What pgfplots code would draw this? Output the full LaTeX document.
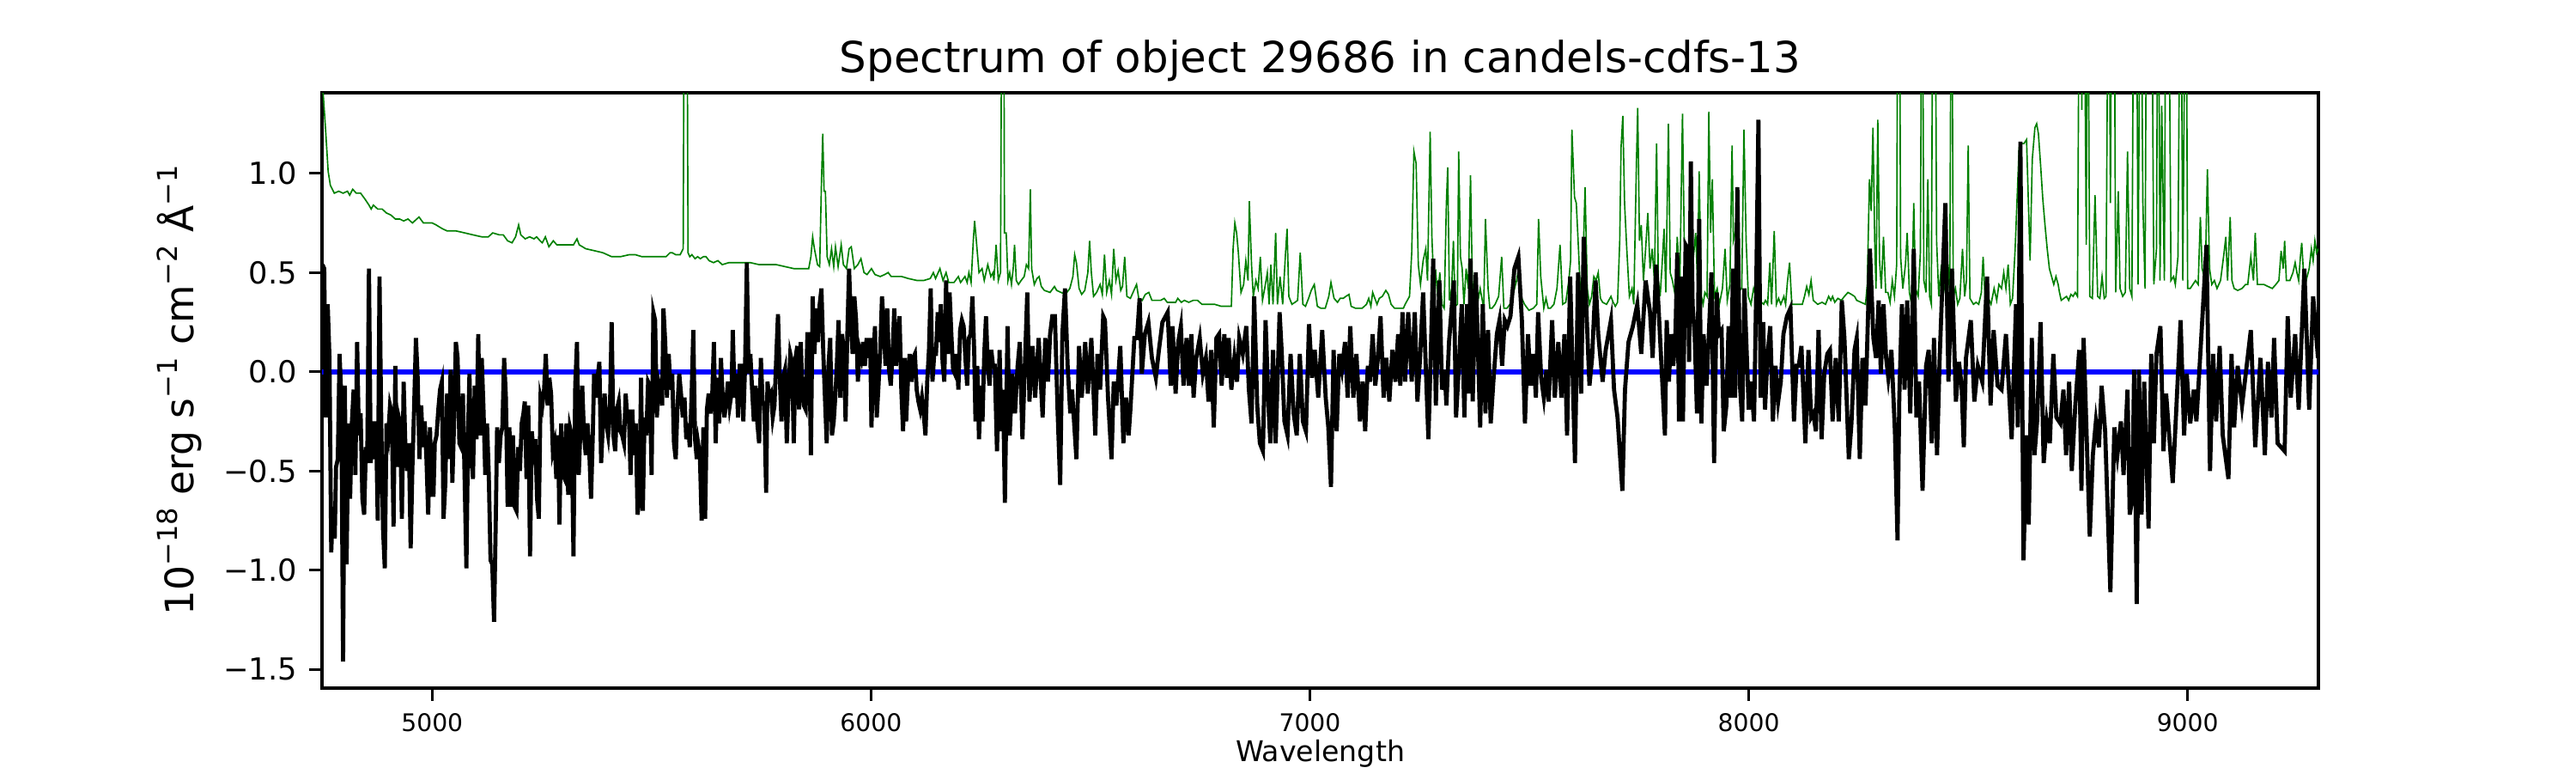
\documentclass[border=0pt]{standalone}
\usepackage{pgfplots}
\pgfplotsset{compat=1.18}
\usepackage{fontspec}
\setmainfont{DejaVu Sans}
\newcommand\sups[1]{\raisebox{0.4em}{\fontsize{7.7}{8}\selectfont #1}}
\definecolor{mplgreen}{rgb}{0,0.5,0}
\begin{document}
\begin{tikzpicture}
\useasboundingbox (0,0) rectangle (722.7pt,216.81pt);
\begin{axis}[
  at={(90.34pt,23.85pt)}, anchor=south west,
  scale only axis, width=560.09pt, height=166.94pt,
  xmin=4749, xmax=9298, ymin=-1.594, ymax=1.406,
  xtick={5000,6000,7000,8000,9000},
  xticklabels={5000,6000,7000,8000,9000},
  ytick={-1.5,-1,-0.5,0,0.5,1},
  yticklabels={−1.5,−1.0,−0.5,0.0,0.5,1.0},
  /pgf/number format/assume math mode=true,
  tick pos=left, tick align=outside, major tick length=3.5pt,
  every tick/.style={black, line width=0.8pt},
  minor tick num=0,
  axis line style={line width=0.8pt},
  xticklabel style={font=\fontsize{6.8}{8}\selectfont},
  yticklabel style={font=\fontsize{8.5}{10}\selectfont},
  title={Spectrum of object 29686 in candels-cdfs-13},
  every axis title/.style={at={(axis description cs:0.5,1)}, anchor=base, yshift=5.78pt, font=\fontsize{12}{14}\selectfont},
  xlabel={Wavelength},
  every axis x label/.style={at={(axis description cs:0.5,0)}, anchor=base, yshift=-20.65pt, font=\fontsize{8}{9}\selectfont},
  ylabel={10\sups{−18} erg s\sups{−1} cm\sups{−2} Å\sups{−1}},
  every axis y label/.style={at={(axis description cs:0,0.5)}, xshift=-36.13pt, rotate=90, anchor=base, font=\fontsize{11}{13}\selectfont},
]
% sky / variance spectrum (green)
\addplot[mplgreen, line width=0.4pt] coordinates {
(4750,1.45) (4752,1.39) (4758,1.19) (4763,1.01) (4768,0.94) (4777,0.90) (4787,0.91) (4797,0.90) (4807,0.91) (4812,0.89)
(4819,0.92) (4827,0.90) (4837,0.90) (4847,0.87) (4856,0.84) (4861,0.82) (4866,0.84) (4876,0.82) (4886,0.82) (4896,0.80)
(4906,0.79) (4916,0.77) (4926,0.77) (4935,0.76) (4945,0.77) (4955,0.75) (4965,0.77) (4970,0.78) (4980,0.75) (4990,0.75)
(5000,0.75) (5009,0.74) (5024,0.72) (5034,0.71) (5054,0.71) (5074,0.70) (5093,0.69) (5113,0.68) (5128,0.68) (5138,0.70)
(5153,0.69) (5162,0.69) (5172,0.66) (5182,0.65) (5190,0.68) (5197,0.74) (5202,0.69) (5212,0.67) (5222,0.68) (5232,0.67)
(5238,0.68) (5246,0.66) (5251,0.65) (5258,0.68) (5266,0.63) (5276,0.66) (5284,0.64) (5296,0.64) (5310,0.64) (5322,0.64)
(5330,0.67) (5335,0.64) (5350,0.62) (5370,0.61) (5389,0.60) (5409,0.58) (5429,0.58) (5449,0.59) (5463,0.59) (5478,0.58)
(5498,0.58) (5518,0.58) (5533,0.58) (5542,0.60) (5547,0.60) (5555,0.59) (5565,0.59) (5572,0.62) (5575,2.5) (5580,2.5)
(5583,0.60) (5587,0.58) (5592,0.59) (5599,0.57) (5605,0.58) (5611,0.57) (5618,0.58) (5624,0.58) (5631,0.56) (5641,0.55)
(5651,0.56) (5661,0.54) (5676,0.55) (5695,0.55) (5710,0.55) (5725,0.55) (5745,0.54) (5764,0.54) (5784,0.54) (5804,0.53)
(5824,0.52) (5843,0.52) (5858,0.52) (5863,0.58) (5867,0.68) (5871,0.62) (5878,0.54) (5883,0.53) (5887,0.95) (5890,1.20)
(5893,0.91) (5896,0.91) (5900,0.58) (5905,0.54) (5910,0.62) (5915,0.53) (5919,0.63) (5925,0.53) (5932,0.64) (5937,0.54)
(5944,0.52) (5950,0.62) (5955,0.63) (5962,0.52) (5970,0.54) (5977,0.57) (5984,0.50) (5991,0.49) (6001,0.52) (6009,0.49)
(6021,0.48) (6031,0.49) (6039,0.50) (6046,0.48) (6061,0.48) (6070,0.48) (6085,0.47) (6105,0.46) (6120,0.46) (6135,0.47)
(6142,0.50) (6147,0.47) (6157,0.52) (6164,0.46) (6171,0.50) (6177,0.45) (6189,0.45) (6199,0.48) (6204,0.45) (6214,0.48)
(6219,0.45) (6223,0.50) (6228,0.45) (6233,0.66) (6236,0.76) (6240,0.66) (6246,0.50) (6253,0.52) (6258,0.46) (6266,0.54)
(6273,0.48) (6278,0.50) (6280,0.46) (6285,0.64) (6290,0.46) (6295,0.50) (6299,2.5) (6302,2.5) (6304,0.70) (6308,0.70)
(6312,0.46) (6316,0.50) (6320,0.44) (6324,0.52) (6327,0.64) (6331,0.46) (6336,0.44) (6342,0.46) (6349,0.48) (6354,0.54)
(6359,0.52) (6363,0.92) (6366,0.52) (6372,0.44) (6378,0.47) (6383,0.48) (6388,0.43) (6395,0.41) (6408,0.40) (6418,0.43)
(6423,0.41) (6433,0.40) (6443,0.39) (6453,0.42) (6460,0.48) (6464,0.59) (6468,0.55) (6474,0.42) (6480,0.39) (6487,0.41)
(6494,0.50) (6498,0.66) (6502,0.50) (6507,0.38) (6514,0.40) (6522,0.44) (6527,0.39) (6532,0.59) (6537,0.40) (6543,0.46)
(6548,0.39) (6553,0.62) (6558,0.46) (6563,0.51) (6569,0.41) (6573,0.43) (6578,0.58) (6583,0.38) (6591,0.37) (6599,0.41)
(6605,0.44) (6610,0.37) (6618,0.36) (6625,0.39) (6633,0.40) (6640,0.36) (6650,0.36) (6660,0.36) (6668,0.37) (6675,0.35)
(6684,0.35) (6694,0.35) (6699,0.37) (6707,0.35) (6714,0.36) (6724,0.35) (6734,0.36) (6744,0.36) (6754,0.34) (6768,0.34)
(6783,0.34) (6798,0.33) (6821,0.33) (6825,0.62) (6829,0.75) (6833,0.70) (6837,0.60) (6843,0.40) (6849,0.44) (6854,0.56)
(6859,0.46) (6862,0.86) (6867,0.54) (6871,0.38) (6877,0.46) (6882,0.42) (6887,0.58) (6892,0.36) (6897,0.42) (6903,0.50)
(6907,0.34) (6911,0.54) (6916,0.34) (6922,0.70) (6926,0.34) (6932,0.48) (6938,0.34) (6944,0.58) (6948,0.72) (6952,0.38)
(6959,0.34) (6966,0.35) (6972,0.36) (6978,0.60) (6984,0.34) (6990,0.33) (6997,0.37) (7003,0.41) (7010,0.44) (7017,0.33)
(7025,0.32) (7035,0.32) (7043,0.38) (7048,0.45) (7055,0.37) (7063,0.35) (7069,0.37) (7076,0.37) (7082,0.38) (7089,0.39)
(7094,0.33) (7104,0.32) (7119,0.32) (7124,0.33) (7129,0.34) (7134,0.37) (7139,0.33) (7143,0.40) (7148,0.37) (7153,0.34)
(7158,0.37) (7165,0.38) (7173,0.41) (7179,0.39) (7185,0.34) (7193,0.32) (7203,0.32) (7213,0.32) (7217,0.34) (7227,0.38)
(7232,0.60) (7237,1.11) (7242,1.05) (7247,0.54) (7252,0.44) (7258,0.56) (7264,0.62) (7268,0.46) (7274,1.21) (7278,0.68)
(7282,0.46) (7287,0.50) (7291,0.38) (7296,0.50) (7301,0.34) (7306,0.32) (7311,0.85) (7314,1.03) (7318,0.36) (7323,0.42)
(7327,0.66) (7331,0.33) (7336,0.34) (7339,1.11) (7343,0.58) (7347,0.52) (7351,0.34) (7356,0.52) (7361,0.42) (7366,0.99)
(7370,0.46) (7375,0.34) (7380,0.32) (7388,0.42) (7396,0.32) (7400,0.77) (7406,0.42) (7410,0.32) (7415,0.32) (7422,0.34)
(7430,0.38) (7437,0.58) (7442,0.32) (7449,0.32) (7459,0.35) (7464,0.40) (7471,0.46) (7477,0.54) (7481,0.38) (7489,0.34)
(7499,0.31) (7509,0.32) (7517,0.34) (7521,0.77) (7526,0.48) (7533,0.32) (7538,0.37) (7543,0.32) (7548,0.32) (7556,0.34)
(7563,0.42) (7570,0.64) (7576,0.34) (7583,0.35) (7590,0.46) (7594,0.56) (7597,1.22) (7603,0.88) (7607,0.85) (7612,0.62)
(7617,0.36) (7622,0.52) (7627,0.93) (7632,0.42) (7637,0.34) (7642,0.38) (7647,0.48) (7652,0.46) (7657,0.50) (7662,0.37)
(7667,0.35) (7676,0.34) (7686,0.38) (7691,0.35) (7696,0.33) (7701,0.35) (7706,0.66) (7709,1.13) (7713,1.29) (7717,0.85)
(7722,0.62) (7728,0.38) (7734,0.42) (7738,0.34) (7744,1.05) (7747,1.33) (7751,0.66) (7755,0.74) (7760,0.46) (7765,0.62)
(7770,0.80) (7775,0.52) (7780,0.62) (7785,0.46) (7790,1.15) (7794,0.46) (7798,0.38) (7802,0.52) (7807,0.72) (7811,0.40)
(7817,1.25) (7821,0.50) (7826,0.46) (7833,0.38) (7837,0.68) (7843,0.46) (7849,1.30) (7853,0.66) (7857,0.62) (7863,0.34)
(7868,0.37) (7874,0.58) (7879,0.70) (7883,0.46) (7887,1.01) (7892,0.38) (7896,0.34) (7900,0.40) (7905,0.38) (7909,1.31)
(7913,0.70) (7917,0.97) (7922,0.38) (7928,0.42) (7933,0.34) (7940,0.42) (7946,0.62) (7951,0.36) (7957,0.44) (7962,1.14)
(7965,0.66) (7969,0.70) (7974,0.93) (7979,0.41) (7984,0.42) (7989,1.22) (7994,0.66) (7999,0.38) (8005,0.34) (8011,0.42)
(8019,0.36) (8024,0.38) (8029,0.35) (8034,0.34) (8038,0.36) (8043,0.34) (8048,0.55) (8052,0.34) (8058,0.71) (8063,0.34)
(8068,0.37) (8073,0.34) (8080,0.38) (8084,0.34) (8088,0.45) (8093,0.55) (8098,0.34) (8106,0.34) (8113,0.34) (8122,0.34)
(8127,0.38) (8132,0.43) (8137,0.39) (8142,0.46) (8147,0.36) (8157,0.34) (8167,0.35) (8175,0.34) (8182,0.38) (8187,0.36)
(8191,0.38) (8196,0.35) (8203,0.37) (8211,0.36) (8218,0.38) (8226,0.40) (8234,0.39) (8241,0.38) (8246,0.36) (8256,0.35)
(8266,0.34) (8270,0.44) (8275,0.97) (8279,0.81) (8283,1.23) (8287,0.66) (8290,0.42) (8294,1.27) (8298,0.56) (8302,0.42)
(8307,0.68) (8312,0.40) (8317,0.40) (8322,0.35) (8327,0.46) (8332,0.38) (8337,0.54) (8340,2.5) (8343,2.5) (8346,0.58)
(8351,0.42) (8357,0.54) (8361,0.70) (8366,0.40) (8371,0.34) (8376,0.85) (8380,0.42) (8386,0.38) (8391,0.60) (8395,2.5)
(8399,0.46) (8404,0.40) (8408,0.97) (8412,0.38) (8416,0.34) (8420,2.5) (8424,2.5) (8428,0.66) (8433,0.38) (8439,0.54)
(8443,0.46) (8448,0.40) (8453,0.56) (8458,0.40) (8462,2.5) (8466,0.38) (8471,0.42) (8476,0.34) (8481,0.37) (8487,0.62)
(8492,0.38) (8496,0.46) (8500,1.14) (8504,0.37) (8512,0.34) (8518,0.35) (8524,0.34) (8530,0.40) (8534,0.58) (8539,0.34)
(8544,0.38) (8552,0.34) (8559,0.42) (8565,0.36) (8570,0.44) (8576,0.42) (8581,0.50) (8586,0.42) (8591,0.54) (8596,0.34)
(8601,0.37) (8607,0.62) (8611,0.85) (8616,1.13) (8621,1.15) (8627,1.15) (8633,1.17) (8641,0.56) (8646,1.07) (8652,1.23)
(8656,1.25) (8660,1.20) (8665,1.04) (8670,0.87) (8675,0.74) (8680,0.62) (8685,0.52) (8690,0.48) (8695,0.44) (8700,0.48)
(8705,0.44) (8708,0.40) (8712,0.36) (8718,0.37) (8724,0.38) (8729,0.36) (8734,0.39) (8739,0.38) (8744,0.40) (8749,0.38)
(8754,2.5) (8759,1.32) (8763,2.5) (8769,0.64) (8772,2.5) (8777,0.38) (8783,0.37) (8789,0.89) (8795,0.38) (8800,0.37)
(8805,0.48) (8810,0.37) (8814,0.38) (8820,2.5) (8824,0.85) (8828,2.5) (8832,2.5) (8836,0.40) (8842,0.91) (8846,0.42)
(8852,0.38) (8858,0.40) (8863,1.11) (8868,0.42) (8873,0.38) (8878,2.5) (8883,2.5) (8887,0.44) (8893,2.5) (8898,0.85)
(8903,0.42) (8907,2.5) (8912,2.5) (8917,2.5) (8923,0.44) (8929,0.62) (8933,2.5) (8937,0.46) (8941,1.34) (8947,0.46)
(8951,2.5) (8956,2.5) (8962,0.46) (8968,0.48) (8972,0.44) (8978,0.58) (8984,2.5) (8989,0.46) (8996,2.5) (9000,0.42)
(9006,0.42) (9012,0.44) (9018,0.46) (9024,0.44) (9029,0.78) (9033,0.52) (9040,0.46) (9045,1.02) (9050,0.52) (9055,0.44)
(9061,0.46) (9067,0.42) (9075,0.46) (9083,0.60) (9087,0.68) (9091,0.46) (9097,0.78) (9101,0.46) (9106,0.42) (9114,0.41)
(9124,0.42) (9132,0.44) (9137,0.44) (9144,0.58) (9150,0.46) (9154,0.70) (9159,0.44) (9166,0.44) (9174,0.44) (9183,0.43)
(9193,0.42) (9201,0.44) (9208,0.46) (9213,0.61) (9218,0.52) (9221,0.66) (9225,0.46) (9233,0.46) (9240,0.50) (9245,0.55)
(9249,0.50) (9253,0.46) (9257,0.58) (9260,0.65) (9264,0.50) (9270,0.46) (9277,0.52) (9282,0.62) (9286,0.56) (9290,0.66)
(9294,0.60) (9298,0.62)
};
% zero line
\addplot[blue, line width=1.4pt] coordinates {(4749,0) (9298,0)};
% object spectrum (black)
\addplot[black, line width=1.15pt] coordinates {
(4750,0.54) (4754,0.52) (4758,-0.23) (4762,0.34) (4766,0.07) (4770,-0.91) (4774,-0.68) (4778,-0.84) (4781,-0.48) (4785,-0.44)
(4789,0.09) (4793,-0.13) (4797,-1.46) (4801,-0.07) (4805,-0.97) (4809,-0.26) (4813,-0.64) (4817,-0.26) (4821,-0.09) (4825,-0.52)
(4829,0.15) (4833,-0.32) (4837,-0.21) (4841,-0.64) (4845,-0.72) (4849,-0.38) (4852,-0.46) (4856,0.52) (4860,-0.46) (4864,-0.25)
(4868,-0.44) (4872,-0.25) (4876,-0.75) (4880,0.48) (4884,-0.26) (4888,-0.79) (4892,-0.99) (4896,-0.26) (4900,-0.32) (4904,-0.17)
(4908,-0.21) (4912,-0.78) (4916,0.03) (4920,-0.48) (4924,-0.23) (4927,-0.26) (4931,-0.74) (4935,-0.05) (4939,-0.38) (4943,-0.50)
(4947,-0.36) (4951,-0.89) (4955,-0.48) (4959,-0.17) (4963,0.17) (4967,-0.03) (4971,-0.44) (4975,-0.17) (4979,-0.38) (4983,-0.25)
(4987,-0.44) (4991,-0.72) (4995,-0.28) (4999,-0.62) (5003,-0.62) (5006,-0.36) (5010,-0.32) (5014,-0.19) (5018,-0.09) (5022,-0.05)
(5026,-0.74) (5030,-0.56) (5034,-0.11) (5038,-0.44) (5042,0.01) (5046,-0.56) (5050,-0.25) (5054,0.15) (5058,0.07) (5062,-0.36)
(5066,-0.38) (5070,-0.11) (5074,-0.54) (5078,-0.99) (5082,-0.28) (5085,-0.01) (5089,-0.42) (5093,-0.54) (5097,-0.07) (5101,-0.34)
(5105,0.19) (5109,-0.32) (5113,0.07) (5117,-0.19) (5121,-0.52) (5125,-0.26) (5129,-0.52) (5133,-0.95) (5137,-0.97) (5141,-1.26)
(5145,-0.74) (5148,-0.28) (5152,-0.46) (5156,-0.32) (5160,-0.28) (5164,0.07) (5168,-0.13) (5172,-0.68) (5176,-0.28) (5180,-0.68)
(5184,-0.32) (5188,-0.68) (5192,-0.70) (5196,-0.38) (5200,-0.50) (5204,-0.26) (5208,-0.21) (5211,-0.15) (5215,-0.54) (5219,-0.17)
(5223,-0.93) (5227,-0.30) (5231,-0.40) (5235,-0.34) (5239,-0.64) (5243,-0.74) (5247,-0.13) (5251,-0.17) (5255,-0.09) (5259,0.09)
(5263,-0.17) (5267,-0.03) (5271,-0.11) (5275,-0.40) (5279,-0.36) (5283,-0.54) (5287,-0.32) (5290,-0.77) (5294,-0.26) (5298,-0.52)
(5302,-0.54) (5306,-0.26) (5310,-0.62) (5314,-0.28) (5318,-0.32) (5322,-0.93) (5326,-0.07) (5330,0.15) (5334,-0.52) (5338,-0.28)
(5342,-0.07) (5346,-0.32) (5350,-0.42) (5354,-0.26) (5358,-0.40) (5362,-0.64) (5366,-0.32) (5369,-0.01) (5373,-0.13) (5377,-0.03)
(5381,0.05) (5385,-0.46) (5389,-0.26) (5393,-0.11) (5397,-0.26) (5401,-0.32) (5405,-0.19) (5409,0.25) (5413,-0.32) (5417,-0.40)
(5421,-0.19) (5425,-0.15) (5429,-0.30) (5433,-0.32) (5437,-0.36) (5441,-0.11) (5445,-0.26) (5448,-0.19) (5452,-0.52) (5456,-0.19)
(5460,-0.42) (5464,-0.26) (5468,-0.72) (5472,-0.64) (5476,-0.03) (5480,-0.70) (5484,-0.23) (5488,-0.32) (5492,-0.05) (5496,-0.07)
(5500,-0.52) (5504,0.30) (5508,0.26) (5512,-0.23) (5516,-0.05) (5520,-0.09) (5524,-0.17) (5527,0.32) (5531,0.15) (5535,-0.13)
(5539,0.09) (5543,-0.09) (5547,-0.01) (5551,-0.36) (5555,-0.44) (5559,-0.17) (5563,-0.01) (5567,-0.11) (5571,-0.23) (5575,-0.13)
(5579,-0.34) (5583,-0.26) (5587,-0.38) (5591,-0.13) (5595,0.21) (5599,-0.34) (5603,-0.44) (5606,-0.36) (5610,-0.42) (5614,-0.75)
(5618,-0.28) (5622,-0.74) (5626,-0.19) (5630,-0.11) (5634,-0.21) (5638,-0.13) (5642,0.15) (5646,-0.36) (5650,-0.03) (5654,-0.26)
(5658,0.07) (5662,-0.13) (5666,-0.23) (5670,-0.15) (5674,-0.05) (5678,-0.17) (5682,-0.11) (5685,0.21) (5689,-0.13) (5693,-0.01)
(5697,-0.23) (5701,0.03) (5705,0.03) (5709,-0.25) (5713,0.03) (5717,0.55) (5721,-0.01) (5725,0.09) (5729,-0.09) (5733,-0.25)
(5737,-0.07) (5741,-0.26) (5745,-0.36) (5749,0.07) (5753,-0.15) (5757,-0.17) (5761,-0.61) (5764,-0.05) (5768,-0.13) (5772,-0.11)
(5776,-0.23) (5780,-0.17) (5784,0.07) (5788,0.29) (5792,-0.03) (5796,-0.25) (5800,-0.03) (5804,0.01) (5808,-0.36) (5812,-0.11)
(5816,0.09) (5820,0.05) (5824,-0.36) (5828,0.07) (5832,0.13) (5836,-0.19) (5840,0.15) (5843,-0.07) (5847,-0.17) (5851,-0.19)
(5855,0.19) (5859,0.19) (5863,-0.42) (5867,0.38) (5871,0.09) (5875,0.32) (5879,0.15) (5883,0.34) (5887,0.42) (5891,0.11)
(5895,-0.13) (5899,-0.36) (5903,0.03) (5907,0.17) (5911,-0.32) (5915,-0.25) (5919,-0.11) (5922,0.03) (5926,0.26) (5930,-0.13)
(5934,0.19) (5938,0.11) (5942,-0.25) (5946,0.19) (5950,0.52) (5954,0.26) (5958,0.09) (5962,0.38) (5966,0.26) (5970,-0.05)
(5974,0.11) (5978,0.07) (5982,0.15) (5986,0.03) (5990,0.17) (5994,0.07) (5998,0.17) (6001,-0.28) (6005,0.05) (6009,0.23)
(6013,-0.23) (6017,-0.07) (6021,0.11) (6025,0.38) (6029,0.23) (6033,0.03) (6037,0.32) (6041,0.01) (6045,-0.07) (6049,0.09)
(6053,0.32) (6057,0.03) (6061,0.15) (6065,0.28) (6069,-0.09) (6073,-0.30) (6077,0.07) (6080,-0.25) (6084,-0.05) (6088,0.09)
(6092,-0.05) (6096,0.07) (6100,0.09) (6104,-0.09) (6108,-0.15) (6112,-0.19) (6116,-0.13) (6120,-0.21) (6124,-0.32) (6128,-0.05)
(6132,0.11) (6136,0.42) (6140,-0.05) (6144,0.09) (6148,0.09) (6152,0.30) (6156,0.15) (6159,0.34) (6163,0.05) (6167,-0.05)
(6171,0.46) (6175,0.09) (6179,0.40) (6183,0.19) (6187,0.01) (6191,-0.01) (6195,0.09) (6199,-0.09) (6203,0.21) (6207,0.26)
(6211,0.23) (6215,0.07) (6219,-0.07) (6223,0.17) (6227,0.19) (6231,0.38) (6235,0.11) (6238,-0.25) (6242,0.03) (6246,-0.34)
(6250,-0.07) (6254,-0.25) (6258,0.09) (6262,0.28) (6266,0.03) (6270,-0.07) (6274,0.11) (6278,0.03) (6282,0.03)
(6287,-0.40) (6293,0.11) (6297,-0.30) (6301,-0.09) (6305,-0.66) (6311,0.23) (6316,-0.32) (6322,-0.01) (6328,-0.21) (6334,0.03)
(6339,0.15) (6345,-0.34) (6356,0.40) (6361,-0.15) (6368,0.13) (6374,-0.13) (6382,0.17) (6391,-0.23) (6397,0.17) (6403,-0.05)
(6408,0.19) (6413,0.28) (6419,0.28) (6425,-0.19) (6431,-0.57) (6436,0.19) (6442,0.42) (6448,0.03) (6454,-0.21) (6458,-0.09)
(6468,-0.44) (6474,0.13) (6480,-0.13) (6484,-0.01) (6488,0.15) (6494,-0.11) (6502,0.17) (6511,-0.32) (6516,0.09) (6522,-0.09)
(6529,0.28) (6533,0.26) (6540,-0.13) (6548,-0.44) (6553,-0.05) (6559,-0.17) (6568,0.13) (6575,-0.36) (6581,-0.13) (6587,-0.32)
(6591,-0.19) (6600,0.17) (6606,0.17) (6612,0.37) (6617,-0.01) (6624,0.19) (6632,0.25) (6640,0.07) (6649,-0.03) (6656,0.11)
(6664,0.25) (6676,0.30) (6683,-0.07) (6687,0.23) (6694,-0.11) (6700,0.15) (6706,0.23) (6712,-0.07) (6719,0.17) (6724,-0.07)
(6730,0.19) (6735,-0.13) (6741,0.07) (6749,0.17) (6756,-0.01) (6763,0.07) (6769,-0.15) (6775,0.11) (6781,-0.28) (6787,0.17)
(6793,0.19) (6799,-0.07) (6805,0.19) (6811,-0.03) (6815,0.17) (6821,-0.09) (6828,0.07) (6834,-0.05) (6839,0.17) (6847,0.09)
(6855,0.23) (6861,-0.09) (6867,-0.26) (6873,0.38) (6880,-0.17) (6886,-0.36) (6893,-0.40) (6899,0.26) (6906,-0.19) (6910,-0.36)
(6916,0.11) (6922,-0.36) (6931,0.30) (6936,0.09) (6942,-0.25) (6949,-0.32) (6956,0.09) (6963,-0.21) (6970,-0.32) (6977,0.09)
(6984,-0.25) (6991,-0.30) (6998,0.24) (7005,-0.03) (7011,0.11) (7019,-0.13) (7028,0.21) (7036,-0.13) (7042,-0.28) (7048,-0.58)
(7054,0.11) (7061,-0.30) (7067,0.09) (7073,0.01) (7080,0.15) (7086,-0.13) (7092,0.23) (7099,-0.13) (7106,0.09) (7114,-0.25)
(7120,-0.05) (7126,-0.30) (7132,0.03) (7137,-0.05) (7143,0.19) (7149,-0.07) (7155,0.07) (7161,0.28) (7168,-0.13) (7174,0.07)
(7181,-0.15) (7188,0.11) (7195,-0.05) (7201,0.19) (7206,-0.07) (7211,0.30) (7217,-0.05) (7224,0.30) (7232,-0.05) (7239,0.30)
(7245,-0.15) (7251,0.07) (7258,0.40) (7270,-0.34) (7275,0.05) (7281,0.57) (7287,-0.17) (7295,0.46) (7301,-0.09) (7307,0.01)
(7311,-0.17) (7317,0.15) (7328,0.46) (7333,-0.23) (7339,0.01) (7346,0.34) (7352,-0.23) (7358,0.34) (7362,-0.11) (7366,0.57)
(7371,-0.15) (7378,0.50) (7388,-0.28) (7394,0.34) (7400,-0.21) (7406,0.21) (7412,-0.26) (7418,-0.05) (7426,0.19) (7432,0.26)
(7438,0.03) (7444,0.26) (7450,0.23) (7457,0.28) (7466,0.52) (7475,0.58) (7483,0.26) (7490,-0.26) (7497,0.19) (7503,-0.07)
(7509,0.09) (7515,-0.13) (7520,0.30) (7527,-0.03) (7533,-0.13) (7539,0.01) (7544,-0.15) (7552,0.26) (7558,-0.13) (7566,0.15)
(7573,-0.13) (7580,0.19) (7586,-0.32) (7593,0.48) (7604,-0.46) (7611,0.50) (7618,-0.11) (7624,0.68) (7631,0.26) (7637,-0.07)
(7643,0.07) (7651,0.46) (7657,0.19) (7667,-0.05) (7674,0.11) (7686,0.26) (7693,-0.09) (7701,-0.23) (7712,-0.60) (7718,-0.09)
(7726,0.15) (7736,0.23) (7746,0.34) (7755,0.09) (7765,0.46) (7775,0.30) (7781,0.07) (7789,0.54) (7795,0.30) (7809,-0.32)
(7813,0.26) (7818,-0.05) (7823,0.19) (7828,0.03) (7833,0.19) (7837,0.60) (7841,-0.25) (7845,0.48) (7850,-0.25) (7856,0.64)
(7861,0.62) (7864,0.05) (7868,1.06) (7872,0.34) (7877,0.17) (7882,-0.21) (7887,0.77) (7892,-0.26) (7897,0.19) (7904,-0.07)
(7915,0.50) (7921,-0.46) (7927,0.40) (7932,0.19) (7938,0.21) (7943,-0.30) (7949,-0.17) (7954,0.23) (7959,-0.13) (7964,0.52)
(7969,-0.13) (7974,0.93) (7980,-0.07) (7985,-0.25) (7990,0.42) (8000,-0.19) (8005,-0.05) (8012,-0.25) (8017,0.42) (8022,1.27)
(8027,-0.13) (8033,0.25) (8037,-0.19) (8043,0.09) (8049,0.23) (8055,-0.25) (8061,0.03) (8067,-0.15) (8073,-0.05) (8079,0.19)
(8087,0.28) (8095,0.32) (8103,-0.25) (8109,0.03) (8114,0.03) (8120,0.13) (8129,-0.36) (8136,0.11) (8142,-0.23) (8147,-0.21)
(8153,-0.30) (8159,0.21) (8166,-0.34) (8172,-0.01) (8179,0.09) (8185,0.11) (8191,-0.25) (8198,0.07) (8205,-0.25) (8212,0.36)
(8218,0.17) (8228,-0.44) (8234,-0.26) (8241,0.11) (8246,0.17) (8253,-0.44) (8259,0.07) (8266,-0.17) (8276,0.62) (8284,0.17)
(8290,0.07) (8296,0.36) (8301,-0.01) (8307,0.34) (8313,0.07) (8318,-0.03) (8325,0.11) (8333,-0.30) (8339,-0.85) (8343,-0.13)
(8349,0.34) (8355,-0.09) (8361,0.36) (8368,-0.21) (8376,0.62) (8382,-0.23) (8388,-0.05) (8396,-0.60) (8404,0.03) (8410,0.11)
(8417,-0.36) (8422,0.17) (8429,-0.42) (8435,0.07) (8448,0.85) (8455,-0.05) (8463,0.52) (8472,-0.15) (8479,0.05) (8485,-0.07)
(8490,-0.38) (8495,0.07) (8506,0.26) (8514,-0.15) (8522,0.03) (8532,-0.05) (8543,0.48) (8551,-0.17) (8558,0.21) (8567,-0.07)
(8576,-0.09) (8586,0.19) (8599,-0.34) (8609,0.34) (8613,-0.28) (8619,1.16) (8626,-0.95) (8633,-0.32) (8638,-0.77) (8645,0.17)
(8651,-0.42) (8657,-0.25) (8665,0.25) (8672,-0.46) (8679,-0.25) (8686,-0.36) (8694,0.09) (8701,-0.23) (8710,-0.26) (8717,-0.09)
(8723,-0.42) (8730,-0.05) (8736,-0.50) (8744,-0.17) (8753,0.11) (8758,-0.60) (8763,0.17) (8777,-0.83) (8784,-0.42) (8791,-0.25)
(8798,-0.38) (8804,-0.07) (8812,-0.30) (8824,-1.11) (8833,-0.28) (8840,-0.42) (8848,-0.25) (8854,-0.52) (8863,-0.09) (8868,-0.72)
(8874,-0.64) (8878,0.01) (8884,-1.17) (8889,0.01) (8895,-0.72) (8901,-0.05) (8911,-0.79) (8917,0.09) (8923,-0.36) (8929,0.09)
(8938,0.23) (8945,-0.40) (8951,-0.11) (8966,-0.56) (8984,0.26) (8992,-0.32) (8998,-0.01) (9006,-0.26) (9014,-0.09) (9020,-0.25)
(9031,0.17) (9043,0.64) (9051,-0.50) (9058,0.09) (9065,-0.25) (9073,0.13) (9080,-0.32) (9093,-0.54) (9100,0.09) (9106,-0.28)
(9114,0.03) (9124,-0.17) (9144,0.21) (9154,-0.38) (9166,0.07) (9176,-0.42) (9183,0.05) (9191,-0.23) (9197,0.17) (9205,-0.36)
(9221,-0.40) (9228,0.28) (9235,-0.13) (9245,0.19) (9253,-0.19) (9266,0.52) (9277,-0.19) (9286,0.38) (9297,0.07)
};
\end{axis}
\end{tikzpicture}
\end{document}
